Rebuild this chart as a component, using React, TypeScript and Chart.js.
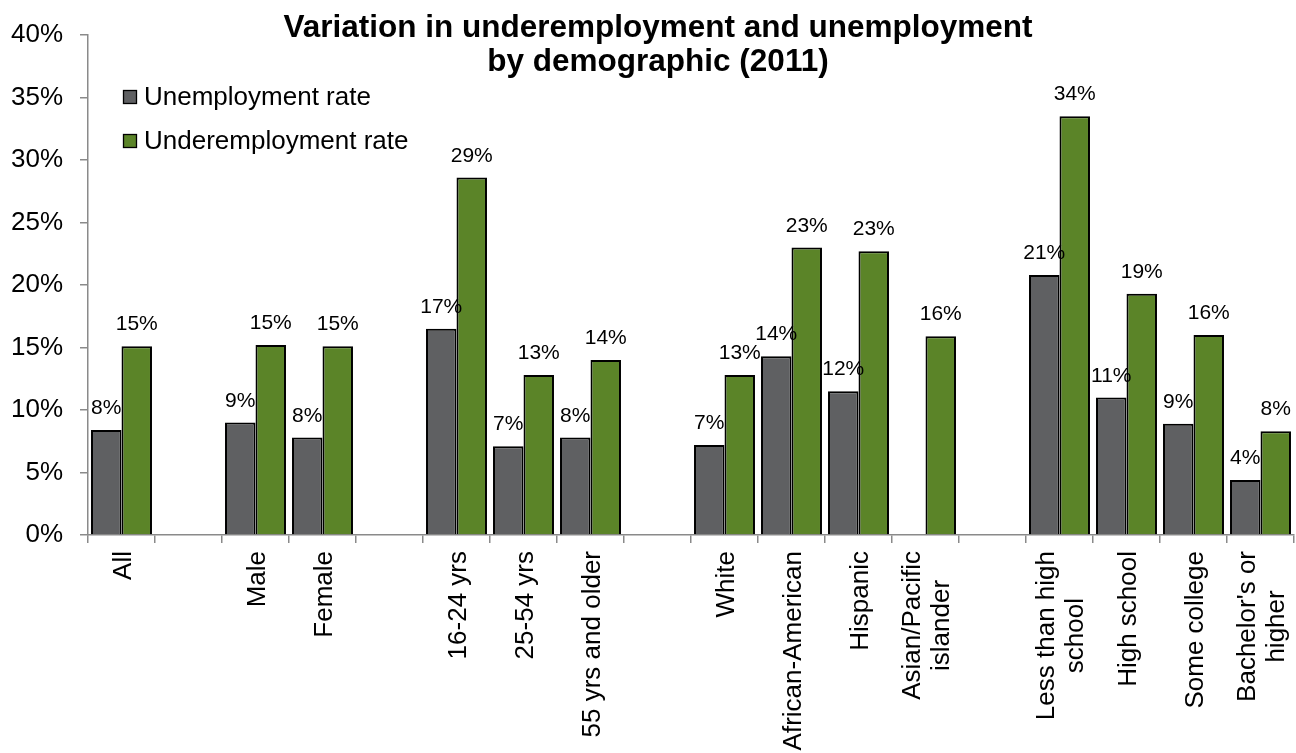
import React, { useEffect, useRef } from "react";
import { Chart, registerables } from "chart.js";

Chart.register(...registerables);

const categories: (string | string[])[] = [
  "All", "", "Male", "Female", "", "16-24 yrs", "25-54 yrs", "55 yrs and older", "",
  "White", "African-American", "Hispanic", ["Asian/Pacific", "islander"], "",
  ["Less than high", "school"], "High school", "Some college", ["Bachelor's or", "higher"],
];
const unemployment: (number | null)[] = [
  8.4, null, 9.0, 7.8, null, 16.5, 7.1, 7.8, null, 7.2, 14.3, 11.5, null, null, 20.8, 11.0, 8.9, 4.4,
];
const underemployment: (number | null)[] = [
  15.1, null, 15.2, 15.1, null, 28.6, 12.8, 14.0, null, 12.8, 23.0, 22.7, 15.9, null, 33.5, 19.3, 16.0, 8.3,
];
const seriesNames = ["Unemployment rate", "Underemployment rate"];
const seriesColors = ["#5f6062", "#5b8428"];
const titleLines = ["Variation in underemployment and unemployment", "by demographic (2011)"];
const yMin = 0;
const yMax = 40;
const yStep = 5;

const FONT = "'Liberation Sans', Arial, Helvetica, sans-serif";

const overlayPlugin = {
  id: "overlay",
  afterDatasetsDraw(chart: any) {
    const ctx = chart.ctx;
    ctx.save();
    ctx.fillStyle = "#000";
    ctx.font = `21px ${FONT}`;
    ctx.textAlign = "center";
    ctx.textBaseline = "alphabetic";
    chart.data.datasets.forEach((ds: any, di: number) => {
      const meta = chart.getDatasetMeta(di);
      meta.data.forEach((el: any, i: number) => {
        const v = ds.data[i];
        if (v === null || v === undefined) return;
        ctx.fillText(`${Math.round(v)}%`, el.x, el.y - 16);
      });
    });
    ctx.restore();
  },
  afterDraw(chart: any) {
    const ctx = chart.ctx;
    ctx.save();
    // title
    ctx.fillStyle = "#000";
    ctx.font = `bold 31.5px ${FONT}`;
    ctx.textAlign = "center";
    ctx.textBaseline = "alphabetic";
    ctx.fillText(titleLines[0], 658, 37);
    ctx.fillText(titleLines[1], 658, 71);

    // legend
    ctx.font = `26px ${FONT}`;
    ctx.textAlign = "left";
    ctx.textBaseline = "middle";
    const rows = [97, 141];
    seriesNames.forEach((name, i) => {
      ctx.fillStyle = seriesColors[i];
      ctx.fillRect(123.5, rows[i] - 6.5, 13, 13);
      ctx.strokeStyle = "#000";
      ctx.lineWidth = 1.3;
      ctx.strokeRect(123.5, rows[i] - 6.5, 13, 13);
      ctx.fillStyle = "#000";
      ctx.fillText(name, 144, rows[i] + 1);
    });

    // x labels (rotated)
    const xs = chart.scales.x;
    ctx.font = `26px ${FONT}`;
    ctx.textBaseline = "middle";
    ctx.textAlign = "center";
    const lineH = 29;
    const top = xs.top + 16;
    categories.forEach((lab, i) => {
      const lines = Array.isArray(lab) ? lab : [lab];
      if (!lines[0]) return;
      const x = xs.getPixelForValue(i) + 2;
      const maxW = Math.max(...lines.map((l) => ctx.measureText(l).width));
      ctx.save();
      ctx.translate(x, top);
      ctx.rotate(-Math.PI / 2);
      lines.forEach((l, j) => {
        const off = (j - (lines.length - 1) / 2) * lineH;
        ctx.fillText(l, -maxW / 2, off);
      });
      ctx.restore();
    });
    ctx.restore();
  },
};

export default function App() {
  const ref = useRef<HTMLCanvasElement | null>(null);
  useEffect(() => {
    if (!ref.current) return;
    const chart = new Chart(ref.current, {
      type: "bar",
      data: {
        labels: categories as any,
        datasets: [
          {
            label: seriesNames[0],
            data: unemployment,
            backgroundColor: seriesColors[0],
            borderColor: "#000",
            borderWidth: 2,
            categoryPercentage: 0.91,
            barPercentage: 1.0,
          },
          {
            label: seriesNames[1],
            data: underemployment,
            backgroundColor: seriesColors[1],
            borderColor: "#000",
            borderWidth: 2,
            categoryPercentage: 0.91,
            barPercentage: 1.0,
          },
        ],
      },
      options: {
        animation: false,
        responsive: true,
        maintainAspectRatio: false,
        layout: { padding: { top: 35, right: 2, left: 0, bottom: 0 } },
        plugins: {
          legend: { display: false },
          title: { display: false },
          tooltip: { enabled: false },
        },
        scales: {
          x: {
            grid: {
              display: true,
              drawOnChartArea: false,
              drawTicks: true,
              tickLength: 8,
              color: "#8a8a8a",
              lineWidth: 1.5,
              offset: true,
            },
            border: { color: "#8a8a8a", width: 1.5 },
            ticks: { display: false, autoSkip: false },
            afterFit: (s: any) => {
              s.height = 218;
            },
          },
          y: {
            min: yMin,
            max: yMax,
            ticks: {
              stepSize: yStep,
              callback: (v: any) => `${v}%`,
              font: { family: FONT, size: 26 },
              color: "#000",
              padding: 17,
            },
            grid: {
              drawOnChartArea: false,
              drawTicks: true,
              tickLength: 8,
              color: "#8a8a8a",
              lineWidth: 1.5,
            },
            border: { color: "#8a8a8a", width: 1.5 },
            afterFit: (s: any) => {
              s.width = 88;
            },
          },
        },
      },
      plugins: [overlayPlugin],
    });
    return () => chart.destroy();
  }, []);
  return (
    <div style={{ position: "absolute", left: 0, top: 0, width: 1296, height: 753 }}>
      <canvas ref={ref} />
    </div>
  );
}
